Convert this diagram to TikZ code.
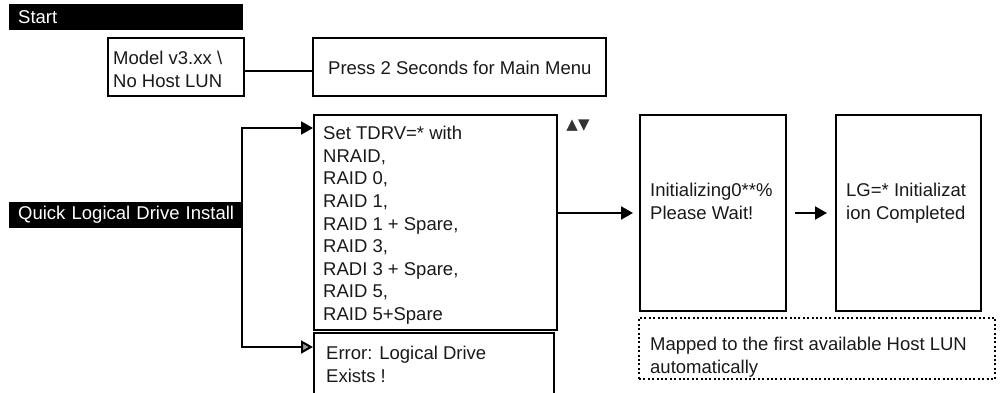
\documentclass[tikz,border=0pt]{standalone}
\usepackage{fontspec}
\setmainfont{Liberation Sans}
\newfontfamily\symfont{DejaVu Sans}
\usetikzlibrary{arrows.meta}
\begin{document}
\begin{tikzpicture}[x=1pt,y=-1pt,
    bar/.style={fill=black,text=white,anchor=north west,text width=216pt,
      align=left,inner xsep=9pt,inner ysep=0pt,minimum height=26pt,
      font=\fontsize{18.5}{22.6}\selectfont},
    box/.style={draw,line width=2pt,anchor=north west,inner sep=0pt},
    txt/.style={anchor=north west,align=left,inner sep=0pt,text=black!90,
      font=\fontsize{18.5}{22.6}\selectfont},
    link/.style={line width=2pt},
    tip/.style={-{Triangle[length=12pt,width=13pt]}}]
  \useasboundingbox (0,0) rectangle (1002,393);
  \node[bar] (start) at (9,4) {Start};
  \node[bar] (quick) at (9,202) {Quick Logical Drive Install};
  \node[box,minimum width=136pt,minimum height=58pt] (model) at (107,37) {};
  \node[box,minimum width=293pt,minimum height=58pt] (press) at (312,37) {};
  \node[box,minimum width=243pt,minimum height=215pt] (set) at (313,114) {};
  \node[box,minimum width=240pt,minimum height=90pt] (error) at (313,332) {};
  \node[box,minimum width=146pt,minimum height=196pt] (init) at (639,114) {};
  \node[box,minimum width=145pt,minimum height=196pt] (done) at (835,114) {};
  \node[box,dash pattern=on 2pt off 2.4pt,minimum width=356pt,
    minimum height=61pt] (mapped) at (638,317) {};
  \node[txt] (modeltext) at (113,51) {Model v3.xx \textbackslash\\No Host LUN};
  \node[txt] (presstext) at (328,61) {Press 2 Seconds for Main Menu};
  \node[txt] (settext) at (323,126) {Set TDRV=* with\\NRAID,\\RAID 0,\\RAID 1,\\
    RAID 1 + Spare,\\RAID 3,\\RADI 3 + Spare,\\RAID 5,\\RAID 5+Spare};
  \node[txt] (errortext) at (326,346) {Error: Logical Drive\\Exists !};
  \node[txt] (inittext) at (650,183) {Initializing0**\%\\Please Wait!};
  \node[txt] (donetext) at (846,183) {LG=* Initializat\\ion Completed};
  \node[txt] (mappedtext) at (650,337) {Mapped to the first available Host LUN\\automatically};
  \node[inner sep=0pt,text=black!80,font=\symfont\fontsize{15}{17}\selectfont]
    (updown) at (578,126) {▲▼};
  \coordinate (setin) at (313,128);
  \coordinate (errorin) at (313,347);
  \begin{scope}[link]
    \draw ([yshift=-4pt]model.east) -- ([yshift=-4pt]press.west);
    \draw[tip] ([xshift=-1pt]quick.east) |- (setin);
    \draw[-{Triangle[length=12pt,width=13pt,fill=gray!80]}]
      ([xshift=-1pt]quick.east) |- (errorin);
    \draw[tip,shorten >=6pt] (set.east |- init.west) -- (init.west);
    \draw[tip,shorten <=8pt,shorten >=8pt] (init) -- (done);
  \end{scope}
\end{tikzpicture}
\end{document}
